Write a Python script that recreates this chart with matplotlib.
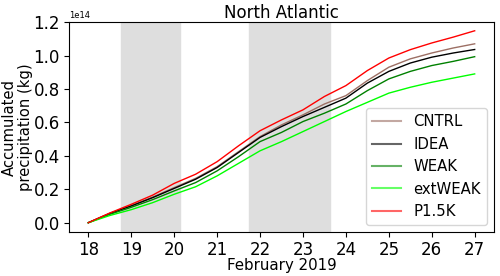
import numpy as np
import matplotlib
matplotlib.use("Agg")
import matplotlib.pyplot as plt

# Dias de febrero 2019 (cada medio dia)
days = np.arange(18, 27.01, 0.5)

# Precipitacion acumulada (x 1e14 kg)
cntrl = [0, 0.056, 0.102, 0.153, 0.21, 0.265, 0.335, 0.425, 0.515, 0.585,
         0.645, 0.71, 0.76, 0.85, 0.93, 0.98, 1.015, 1.045, 1.07]
idea = [0, 0.055, 0.10, 0.15, 0.205, 0.26, 0.33, 0.42, 0.51, 0.575,
        0.635, 0.69, 0.745, 0.835, 0.905, 0.955, 0.99, 1.015, 1.036]
weak = [0, 0.05, 0.092, 0.138, 0.19, 0.24, 0.31, 0.395, 0.485, 0.54,
        0.605, 0.655, 0.71, 0.79, 0.86, 0.905, 0.94, 0.965, 0.993]
extweak = [0, 0.043, 0.078, 0.12, 0.17, 0.215, 0.28, 0.355, 0.43, 0.485,
           0.545, 0.605, 0.665, 0.72, 0.775, 0.81, 0.84, 0.865, 0.89]
p15k = [0, 0.058, 0.11, 0.165, 0.235, 0.29, 0.365, 0.46, 0.55, 0.615,
        0.675, 0.755, 0.82, 0.91, 0.985, 1.035, 1.075, 1.11, 1.148]

series = [("CNTRL", cntrl, "#9c6f64"), ("IDEA", idea, "black"),
          ("WEAK", weak, "green"), ("extWEAK", extweak, "lime"),
          ("P1.5K", p15k, "red")]

# Periodos sombreados
shade = [(18.75, 20.13), (21.74, 23.63)]

fig = plt.figure(figsize=(5, 2.76), dpi=100)
ax = fig.add_axes([0.138, 0.158, 0.85, 0.762])

for a, b in shade:
    ax.axvspan(a, b, color="#dedede", zorder=0)

for name, vals, col in series:
    ax.plot(days, np.array(vals) * 1e14, color=col, lw=1, label=name)

ax.set_xlim(17.55, 27.45)
ax.set_ylim(-0.058e14, 1.2e14)
ax.set_xticks(range(18, 28))
ax.set_yticks(np.arange(0, 1.21, 0.2) * 1e14)
ax.tick_params(labelsize=12, pad=3)
ax.yaxis.get_offset_text().set_fontsize(6)

ax.set_title("North Atlantic", fontsize=12, pad=3)
ax.set_xlabel("February 2019", fontsize=10.8, labelpad=-1)
ax.set_ylabel("Accumulated\nprecipitation (kg)", fontsize=10.6,
              labelpad=0, linespacing=1.1)

leg = ax.legend(loc="lower right", fontsize=10.7)
for line in leg.get_lines():
    line.set_linewidth(1.5)
    line.set_alpha(0.6)

fig.savefig("out.png", dpi=100)
